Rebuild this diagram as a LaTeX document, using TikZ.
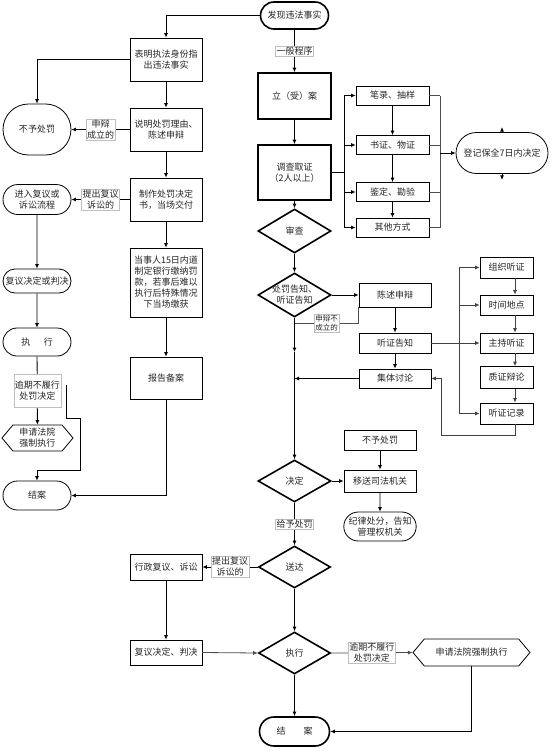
\documentclass[tikz,border=0pt]{standalone}
\usepackage{fontspec}
\setmainfont{Noto Sans CJK SC}
\usetikzlibrary{shapes.misc,shapes.geometric,shapes.symbols,arrows.meta}
\tikzset{
  base/.style={font=\fontsize{9}{11}\selectfont, align=center, text=black!85, inner sep=1pt},
  box/.style={base, draw, line width=0.8pt, minimum width=72pt},
  tbox/.style={base, draw, line width=1.6pt, minimum width=73pt},
  stad/.style={base, rounded rectangle, draw, line width=0.8pt, minimum width=70pt},
  tstad/.style={stad, line width=1.6pt},
  dia/.style={diamond, draw, line width=1.6pt, minimum width=73pt, minimum height=44pt, inner sep=0pt},
  hexa/.style={base, signal, signal to=west and east, signal pointer angle=100, draw, line width=0.8pt},
  lab/.style={base, draw=black!25, line width=0.4pt, fill=white, inner sep=1pt},
  arr/.style={-{Latex[length=4.5pt,width=4pt]}, line width=0.8pt},
  ln/.style={line width=0.8pt},
}
\begin{document}
\begin{tikzpicture}[x=1pt,y=-1pt]
\fill[white] (0,0) rectangle (555,752);
\useasboundingbox (0,0) rectangle (555,752);

% left column
\node[tstad, minimum height=27] (find) at (294.5,15.5) {发现违法事实};
\node[box, minimum height=43] (b1) at (166,59.5) {表明执法身份指\\出违法事实};
\node[stad, minimum height=51] (nopen) at (37,129.5) {不予处罚};
\node[box, minimum height=43] (b2) at (166,129.5) {说明处罚理由、\\陈述申辩};
\node[box, minimum height=43] (b3) at (166,199.5) {制作处罚决定\\书，当场交付};
\node[stad, minimum height=30] (enter) at (37,199.5) {进入复议或\\诉讼流程};
\node[stad, minimum height=24] (rev) at (37,281) {复议决定或判决};
\node[stad, minimum height=28] (exe1) at (37,342) {执\hspace{1.5em}行};
\node[hexa, minimum width=71, minimum height=26] (court1) at (37.5,438) {申请法院\\强制执行};
\node[stad, minimum height=29] (end1) at (37,495.5) {结案};
\node[box, minimum height=69] (b4) at (166,282.5) {当事人15日内道\\制定银行缴纳罚\\款，若事后难以\\执行后特殊情况\\下当场缴获};
\node[box, minimum height=42] (b5) at (166,378) {报告备案};

% main column
\node[tbox, minimum height=46] (lian) at (294.5,96) {立（受）案};
\node[tbox, minimum height=55] (diao) at (294.5,172.5) {调查取证\\（2人以上）};
\node[dia, label={[base]center:审查}] (shen) at (294.5,231) {};
\node[box, minimum width=73, minimum height=19] (r1) at (392.5,95.5) {笔录、抽样};
\node[box, minimum width=73, minimum height=19] (r2) at (392.5,145) {书证、物证};
\node[box, minimum width=73, minimum height=19] (r3) at (392.5,192) {鉴定、勘验};
\node[box, minimum width=73, minimum height=19] (r4) at (392.5,227.5) {其他方式};
\node[stad, minimum width=94, minimum height=41] (keep) at (502,153) {登记保全7日内决定};
\node[dia, label={[base]center:{处罚告知、\\听证告知}}] (gao) at (294.5,295) {};
\node[box, minimum height=24] (chen) at (395,295) {陈述申辩};
\node[box, minimum height=20] (ting) at (395,343) {听证告知};
\node[box, minimum height=19] (ji) at (395,378.5) {集体讨论};
\node[box, minimum width=53, minimum height=21] (h1) at (506.5,267.5) {组织听证};
\node[box, minimum width=53, minimum height=20] (h2) at (506.5,305) {时间地点};
\node[box, minimum width=53, minimum height=20] (h3) at (506.5,343) {主持听证};
\node[box, minimum width=53, minimum height=22] (h4) at (506.5,377.5) {质证辩论};
\node[box, minimum width=53, minimum height=21] (h5) at (506.5,413.5) {听证记录};
\node[box, minimum height=20] (nop2) at (380,440) {不予处罚};
\node[dia, minimum height=42, label={[base]center:决定}] (jue) at (294.5,481) {};
\node[box, minimum height=22] (yi) at (380,481) {移送司法机关};
\node[stad, minimum width=72, minimum height=29] (ji2) at (380,526.5) {纪律处分，告知\\管理权机关};
\node[dia, minimum width=72, minimum height=42, label={[base]center:送达}] (song) at (294.5,567) {};
\node[box, minimum height=26] (xz) at (166,567) {行政复议、诉讼};
\node[box, minimum height=25] (fy) at (166,652.5) {复议决定、判决};
\node[dia, minimum width=72, minimum height=42, label={[base]center:执行}] (zx) at (294.5,653) {};
\node[hexa, minimum width=117, minimum height=27] (court2) at (471.5,652.5) {申请法院强制执行};
\node[tstad, minimum width=72, minimum height=29] (end2) at (294.5,731.5) {结\hspace{2em}案};

% helper coordinates
\coordinate (bx) at (344,0);
\coordinate (bx2) at (440,0);
\coordinate (bx3) at (459,0);
\coordinate (ax) at (515,0);
\coordinate (f1) at (66,385);
\coordinate (c323) at (294.5,323);
\coordinate (mainmid) at (294.5,352);
\coordinate (rt) at (441,435);

% left connectors
\draw[arr] (find.west) -| (b1.north);
\draw[arr] (b1.west) -| (nopen.north);
\draw[arr] (b1) -- (b2);
\draw[arr] (b2) -- (b3);
\draw[arr] (b3) -- (b4);
\draw[arr] (b4) -- (b5);
\draw[arr] (b2.west) -- (nopen.east) node[lab, midway] {申辩\\成立的};
\draw[arr] (b3.west) -- (enter.east) node[lab, midway] {提出复议\\诉讼的};
\draw[arr] (enter) -- (rev);
\draw[arr] (rev) -- (exe1);
\draw[arr] (exe1) -- (court1) node[lab, midway, minimum height=33] {逾期不履行\\处罚决定};
\draw[arr] (f1) -- (66,418) -- (80,418) -- (80,470) -| (end1.north);
\draw[arr] (b5.south) |- (end1.east);

% main connectors
\draw[arr] (find) -- (lian) node[lab, midway] {一般程序};
\draw[arr] (lian) -- (diao);
\draw[arr] (diao) -- (shen);
\draw[arr] (shen) -- (gao);
\draw[ln] (diao.east) -- (diao.east -| bx);
\draw[ln] (r1.west -| bx) -- (r4.west -| bx);
\foreach \r in {r1,r2,r3,r4} {
  \draw[arr] (\r.west -| bx) -- (\r.west);
  \draw[ln, black!70] (\r.east) -- (\r.east -| bx2);
}
\draw[arr] (r1) -- (r2);
\draw[arr] (r2) -- (r3);
\draw[arr] (r3) -- (r4);
\draw[ln, black!70] (r1.east -| bx2) -- (r4.east -| bx2);
\draw[arr] (keep.west -| bx2) -- (keep.west);
\draw[arr] (keep.north) -- ++(0,-5);
\draw[arr] (keep.south) -- ++(0,6);

\draw[arr] (gao.east) -- (chen.west);
\draw[arr] (chen) -- (ting);
\draw[arr] (ting) -- (ji);
\draw[ln, black!70] (chen.south west) |- (c323) node[lab, pos=0.75, font=\fontsize{7.5}{9}\selectfont] {申辩不\\成立的};
\draw[arr] (gao.south) -- (mainmid);
\draw[arr] (mainmid) -- (jue.north);
\draw[arr] (ji.west) -- (ji.west -| gao.south);

\draw[arr, black!75] (ting.east) -- (h3.west);
\draw[ln, black!75] (h1.west -| bx3) -- (h5.west -| bx3);
\foreach \h in {h1,h2,h5} {
  \draw[arr, black!75] (\h.west -| bx3) -- (\h.west);
}
\draw[arr, black!75] (h1.south -| ax) -- (h2.north -| ax);
\draw[arr, black!75] (h2.south -| ax) -- (h3.north -| ax);
\draw[arr, black!75] (h3.south -| ax) -- (h4.north -| ax);
\draw[arr, black!75] (h4.south -| ax) -- (h5.north -| ax);
\draw[arr, black!75] (h5.south -| ax) |- (rt) |- (ji.east);

\draw[arr] (nop2) -- (yi);
\draw[arr] (jue.east) -- (yi.west);
\draw[arr] (yi) -- (ji2);
\draw[arr] (jue) -- (song) node[lab, midway] {给予处罚};
\draw[arr] (song.west) -- (xz.east) node[lab, midway] {提出复议\\诉讼的};
\draw[arr] (xz) -- (fy);
\draw[arr, black!70] (fy.east) -- (zx.west);
\draw[arr] (song) -- (zx);
\draw[arr, black!70] (zx.east) -- (court2.west) node[lab, midway] {逾期不履行\\处罚决定};
\draw[arr] (zx) -- (end2);
\draw[arr] (court2.south) |- (end2.east);
\end{tikzpicture}
\end{document}
